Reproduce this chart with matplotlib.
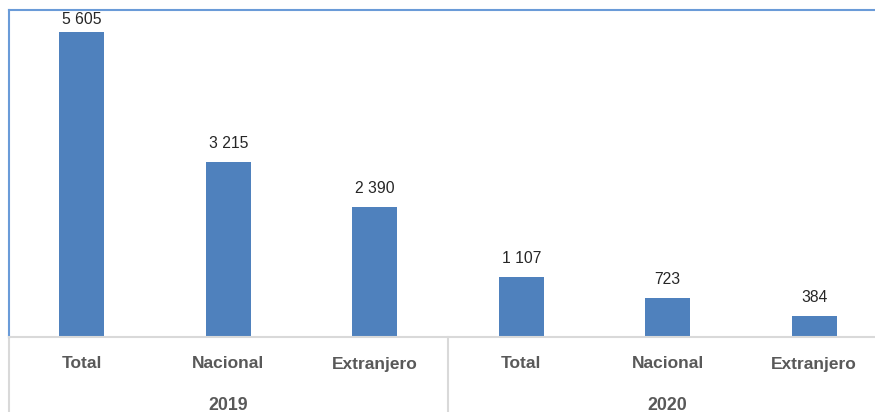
import matplotlib.pyplot as plt
from matplotlib.transforms import blended_transform_factory

plt.rcParams['font.family'] = ['Liberation Sans', 'DejaVu Sans']

# pasajeros por origen, en miles
categorias = ['Total', 'Nacional', 'Extranjero', 'Total', 'Nacional', 'Extranjero']
valores = [5605, 3215, 2390, 1107, 723, 384]
etiquetas = ['5 605', '3 215', '2 390', '1 107', '723', '384']
anios = ['2019', '2020']

azul = '#4f81bd'
gris_txt = '#595959'
gris_lin = '#d9d9d9'

fig = plt.figure(figsize=(8.75, 4.12), dpi=100)
ax = fig.add_axes([8.5 / 875, 75 / 412, 879 / 875, 327 / 412])

x = list(range(len(valores)))
ax.bar(x, valores, width=0.31, color=azul, zorder=2)
ax.set_xlim(-0.5, len(valores) - 0.5)
ax.set_ylim(0, 6000)

# etiquetas de valor, bajando la que no cabe bajo el borde superior
for xi, v, t in zip(x, valores, etiquetas):
    y = min(v + 256, 5735)
    ax.text(xi, y, t, ha='center', va='baseline', fontsize=11.3, color='#262626')

ax.set_yticks([])
ax.set_xticks(x)
ax.set_xticklabels([])
ax.tick_params(axis='x', length=0)

for s in ['right']:
    ax.spines[s].set_visible(False)
ax.spines['top'].set_color('#6a9bd8')
ax.spines['top'].set_linewidth(1.5)
ax.spines['left'].set_color('#6a9bd8')
ax.spines['left'].set_linewidth(1.5)
ax.spines['bottom'].set_color(gris_lin)
ax.spines['bottom'].set_linewidth(1.5)

tr = blended_transform_factory(ax.transData, fig.transFigure)
y_cat = (412 - 364) / 412
y_anio = (412 - 405) / 412
for xi, c in zip(x, categorias):
    ax.text(xi, y_cat, c, transform=tr, ha='center', va='center',
            fontsize=12.5, fontweight='bold', color=gris_txt)
for i, a in enumerate(anios):
    ax.text(1 + 3 * i, y_anio, a, transform=tr, ha='center', va='center',
            fontsize=12.8, fontweight='bold', color=gris_txt)

# divisiones entre grupos por debajo del eje
y_eje = 75 / 412
for xs in [-0.5, 2.5]:
    ax.plot([xs, xs], [0, y_eje], transform=tr, color=gris_lin, lw=1.5,
            clip_on=False, zorder=1)

fig.savefig('out.png', dpi=100)
